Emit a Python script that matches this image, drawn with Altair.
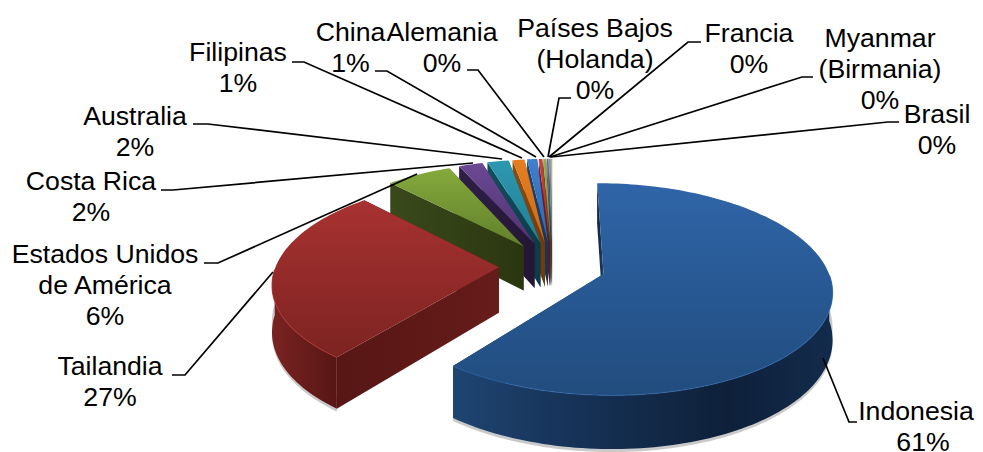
import math
import altair as alt
import pandas as pd

paises = ["Indonesia", "Tailandia", "Estados Unidos de América", "Costa Rica", "Australia", "Filipinas",
          "China", "Alemania", "Países Bajos (Holanda)", "Francia", "Myanmar (Birmania)", "Brasil"]
valores = [60.6, 27.3, 5.5, 2.0, 1.8, 1.0, 0.85, 0.3, 0.25, 0.15, 0.15, 0.1]
lineas_nombre = [["Indonesia"], ["Tailandia"], ["Estados Unidos", "de América"], ["Costa Rica"], ["Australia"],
                 ["Filipinas"], ["China"], ["Alemania"], ["Países Bajos", "(Holanda)"], ["Francia"],
                 ["Myanmar", "(Birmania)"], ["Brasil"]]

# label anchors (centre x, centre y of first line), in picture coordinates
pos_etiqueta = [(923, 415), (110, 367), (105, 255), (91, 182), (135, 117), (238, 53),
                (350.5, 33), (442, 33), (595, 29), (749, 34), (880, 39), (937, 115)]
# lines that must stay inside the drawable page
ajuste_linea = {"Indonesia": (916, 412), "61%": (923, 443)}
# leader polylines
guias = [
    [(857, 422), (849, 422), (823, 358)],
    [(172, 375), (185, 375), (273, 272)],
    [(204, 263), (218, 263), (417, 174)],
    [(161, 190), (173, 190), (473, 163)],
    [(193, 124), (208, 124), (502, 159)],
    [(292, 62), (304, 62), (522, 158)],
    [(375, 71), (387, 71), (536, 157)],
    [(467, 70), (478, 70), (544, 157)],
    [(571, 98), (559, 98), (548, 157)],
    [(701, 42), (688, 42), (549, 157)],
    [(813, 77), (802, 77), (550, 157)],
    [(899, 122), (888, 122), (551, 157)],
]
# (top light, top dark, wall light, wall dark)
paleta = [
    ("#2f65a8", "#214c7e", "#1f4572", "#0e2039"),
    ("#a83231", "#7c2321", "#7a2321", "#571614"),
    ("#85a93c", "#62802c", "#3a4a1b", "#2a3610"),
    ("#6c4894", "#4f3570", "#2f1f47", "#241635"),
    ("#2c98b0", "#237f95", "#10505f", "#0c3b47"),
    ("#e67e20", "#c96c18", "#8f4d10", "#6e3a0a"),
    ("#3f7fcc", "#3168ad", "#1f4572", "#16345a"),
    ("#c8403f", "#a93433", "#7a2321", "#5c1816"),
    ("#8fae4a", "#7a9a3a", "#4a5c22", "#3a4a1b"),
    ("#7a58a6", "#6c4894", "#3a2858", "#2f1f47"),
    ("#39a5bf", "#2c98b0", "#14606f", "#10505f"),
    ("#f0923a", "#e67e20", "#9a5a18", "#8f4d10"),
]

X0, Y0, AX, BY, G, E, H = 552.4, 266.0, 223.0, 101.6, 0.1415, 0.24, 45.6
W, HT = 967, 444


def proyecta(u, v, abajo=False):
    w = 1 / (1 - G * v)
    return [X0 + AX * u * w, Y0 + BY * v * w + (H * w if abajo else 0)]


def punto(ex, ey, th, abajo=False):
    return proyecta(ex + math.sin(th), ey - math.cos(th), abajo)


def grad(c1, c2, horizontal=False):
    return alt.Gradient(gradient="linear", x1=0, y1=0, x2=1 if horizontal else 0, y2=0 if horizontal else 1,
                        stops=[alt.GradientStop(offset=0, color=c1), alt.GradientStop(offset=1, color=c2)])


proj = alt.Projection(type="identity", scale=1, translate=[-8, -8])


def capa(coords, fill=None, cerrar=True, **kw):
    if cerrar:
        geom = {"type": "Polygon", "coordinates": [coords + [coords[0]]]}
    else:
        geom = {"type": "LineString", "coordinates": coords}
    datos = alt.Data(values=[{"type": "Feature", "geometry": geom, "properties": {}}])
    if fill is None:
        return alt.Chart(datos).mark_geoshape(filled=False, **kw).project(**proj.to_dict())
    return alt.Chart(datos).mark_geoshape(fill=fill, strokeWidth=0, **kw).project(**proj.to_dict())


total = sum(valores)
acum = 0.0
rangos = []
for v in valores:
    a0 = acum / total * 2 * math.pi
    acum += v
    rangos.append((a0, acum / total * 2 * math.pi))

capas = []
for i in reversed(range(len(valores))):
    a0, a1 = rangos[i]
    mid = (a0 + a1) / 2
    ex, ey = E * math.sin(mid), -E * math.cos(mid)
    n = max(3, int((a1 - a0) * 40))
    ths = [a0 + (a1 - a0) * k / n for k in range(n + 1)]
    c = paleta[i]
    ap, apb = proyecta(ex, ey), proyecta(ex, ey, True)
    arco = [punto(ex, ey, t) for t in ths]
    arcob = [punto(ex, ey, t, True) for t in ths]
    # outer wall: only the part that faces the viewer
    fr = [t for t in ths if math.pi / 2 <= t <= 3 * math.pi / 2]
    # shadow
    if i < 2:
        sombra = [punto(ex, ey, t, True) for t in fr]
        capas.append(capa([[p[0], p[1] + 3] for p in sombra] + [[p[0], p[1] - 12] for p in sombra[::-1]],
                          "#666666", opacity=0.35))
    # radial walls, the one further back first
    if i == 1:
        pared_frente = grad("#571614", "#661c1a", True)
    elif i == 0:
        pared_frente = grad(c[3], c[2], True)
    else:
        pared_frente = grad(c[2], c[3], True)
    pared_ini = capa([ap, arco[0], arcob[0], apb], pared_frente)
    pared_fin = capa([ap, arco[-1], arcob[-1], apb], pared_frente if i != 1 else grad(c[3], c[3], True))
    capas.extend([pared_ini, pared_fin] if arco[0][1] < arco[-1][1] else [pared_fin, pared_ini])
    if len(fr) > 1:
        sup = [punto(ex, ey, t) for t in fr]
        inf = [punto(ex, ey, t, True) for t in fr]
        if i == 0:
            relleno = alt.Gradient(gradient="linear", x1=0, y1=0, x2=1, y2=0, stops=[
                alt.GradientStop(offset=0, color="#1f4572"), alt.GradientStop(offset=0.28, color="#17345a"),
                alt.GradientStop(offset=0.72, color="#0e2039"), alt.GradientStop(offset=1, color="#132b4c")])
        else:
            relleno = grad(c[2], c[3], True)
        capas.append(capa(sup + inf[::-1], relleno))
    capas.append(capa([ap] + arco, grad(c[0], c[1])))
    if len(fr) > 1 and i < 2:
        capas.append(capa([punto(ex, ey, t) for t in fr], None, cerrar=False,
                          stroke=c[0], strokeWidth=1.2, strokeOpacity=0.7))

filas_guia = []
for i, g in enumerate(guias):
    for j, (x, y) in enumerate(g):
        filas_guia.append({"pais": paises[i], "orden": j, "x": x, "y": y})

filas_texto = []
for i, lineas in enumerate(lineas_nombre):
    x, y = pos_etiqueta[i]
    textos = lineas + [f"{round(valores[i])}%"]
    for j, t in enumerate(textos):
        px, py = ajuste_linea.get(t, (x, y + j * 31))
        filas_texto.append({"x": px, "y": py, "t": t})

ex_x = alt.Scale(domain=[8, 8 + W])
ex_y = alt.Scale(domain=[8 + HT, 8])

lineas = alt.Chart(pd.DataFrame(filas_guia)).mark_line(color="#000000", strokeWidth=1.7).encode(
    x=alt.X("x:Q", scale=ex_x, axis=None),
    y=alt.Y("y:Q", scale=ex_y, axis=None),
    detail="pais:N",
    order="orden:Q",
)
textos = alt.Chart(pd.DataFrame(filas_texto)).mark_text(
    font="Liberation Sans", fontSize=26.67, color="#000000", align="center", baseline="middle"
).encode(
    x=alt.X("x:Q", scale=ex_x, axis=None),
    y=alt.Y("y:Q", scale=ex_y, axis=None),
    text="t:N",
)

chart = alt.layer(*capas, lineas, textos).properties(
    width=W, height=HT, padding=0, autosize=alt.AutoSizeParams(type="none"), background="white"
).configure_view(stroke=None)

chart.save("out.html", embed_options={"renderer": "svg", "actions": False})
